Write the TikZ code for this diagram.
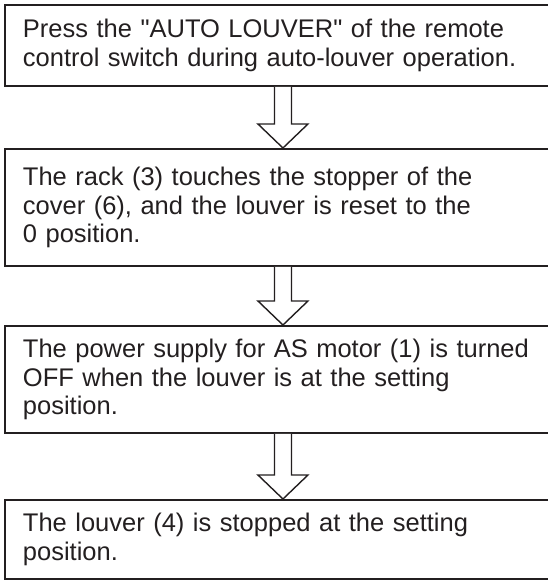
\documentclass[tikz,border=0pt]{standalone}
\usepackage{fontspec}
\setmainfont{Liberation Sans}
\usetikzlibrary{calc}
\definecolor{ink}{HTML}{231F20}
\tikzset{
  stepbox/.style={draw=ink, line width=1.9pt, minimum width=542pt, text width=520pt,
    align=left, inner xsep=18pt, inner ysep=0pt, text=ink, anchor=north west,
    font=\fontsize{25.5}{28.5}\selectfont},
  blockarr/.style={draw=ink, line width=1.4pt, line join=miter, fill=white}
}
\newcommand{\blockarrow}[2]{%
  \draw[blockarr] let \p1=(#1.south), \p2=(#2.north) in
    (\x1-8.5pt,\y1) -- (\x1-8.5pt,\y2+24pt) -- (\x1-25pt,\y2+24pt) -- (\x2,\y2)
    -- (\x1+25pt,\y2+24pt) -- (\x1+8.5pt,\y2+24pt) -- (\x1+8.5pt,\y1);}
\begin{document}
\begin{tikzpicture}[x=1pt,y=-1pt]
\useasboundingbox (0,0) rectangle (547,581);
\node[stepbox, minimum height=81pt] (b1) at (4,4)
  {Press the \textquotedbl AUTO LOUVER\textquotedbl\ of the remote\\control switch during auto-louver operation.};
\node[stepbox, minimum height=117pt] (b2) at (4,148)
  {The rack (3) touches the stopper of the\\cover (6), and the louver is reset to the\\0 position.};
\node[stepbox, minimum height=107pt] (b3) at (4,325)
  {The power supply for AS motor (1) is turned\\OFF when the louver is at the setting\\position.};
\node[stepbox, minimum height=79pt] (b4) at (4,499)
  {The louver (4) is stopped at the setting\\position.};
\blockarrow{b1}{b2}
\blockarrow{b2}{b3}
\blockarrow{b3}{b4}
\end{tikzpicture}
\end{document}
